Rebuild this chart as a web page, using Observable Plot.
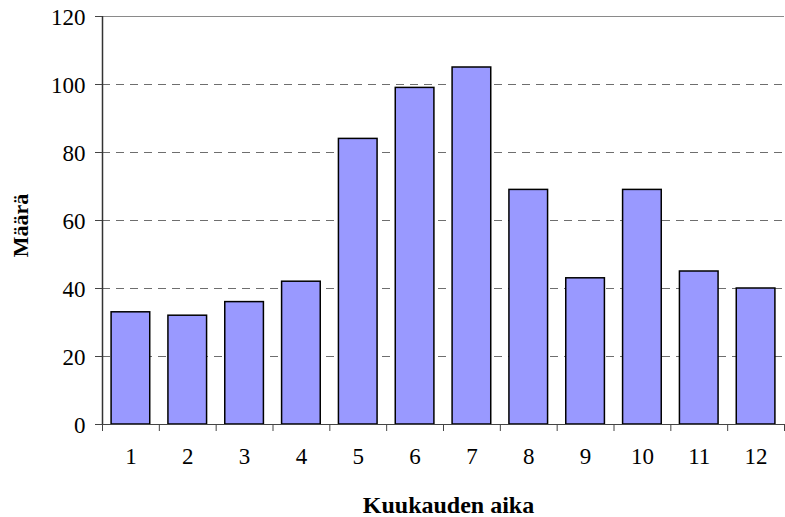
<!DOCTYPE html>
<html>
<head>
<meta charset="utf-8">
<script src="https://cdn.jsdelivr.net/npm/d3@7"></script>
<script src="https://cdn.jsdelivr.net/npm/@observablehq/plot@0.6"></script>
<style>
  html, body { margin: 0; padding: 0; background: white; }
  #chart svg, #chart svg text { font-family: "Liberation Serif", "Times New Roman", serif !important; }
</style>
</head>
<body>
<div id="chart"></div>
<script>
const months = [1, 2, 3, 4, 5, 6, 7, 8, 9, 10, 11, 12];
const counts = [33, 32, 36, 42, 84, 99, 105, 69, 43, 69, 45, 40];
const yTicks = [0, 20, 40, 60, 80, 100, 120];
const xTitle = "Kuukauden aika";
const yTitle = "Määrä";

const data = months.map((m, i) => ({ m, n: counts[i] }));
const boundaries = d3.range(months.length + 1).map(i => i + 0.5);

const chart = Plot.plot({
  width: 785,
  height: 517,
  marginLeft: 102,
  marginRight: 1,
  marginTop: 16,
  marginBottom: 93,
  style: { fontSize: "22px", background: "white", color: "#000" },
  x: { domain: [0.5, 12.5], axis: null },
  y: { domain: [0, 120], axis: null },
  marks: [
    Plot.ruleY(yTicks.filter(t => t > 0 && t < 120), { stroke: "#6e6e6e", strokeDasharray: "8,6", strokeWidth: 1 }),
    Plot.ruleY([120], { stroke: "#8a8a8a", strokeWidth: 1.2 }),
    Plot.rectY(data, { x1: d => d.m - 0.34, x2: d => d.m + 0.34, y: "n", fill: "#9999FF", stroke: "#000", strokeWidth: 1.5 }),
    Plot.ruleY([0], { stroke: "#444", strokeWidth: 1.2 }),
    Plot.ruleX([0.5], { stroke: "#333", strokeWidth: 1.5 }),
    Plot.axisY({ ticks: yTicks, tickSize: 7, tickFormat: () => "", label: null, stroke: "#444" }),
    Plot.axisX({ ticks: boundaries, tickSize: 7, tickFormat: () => "", label: null, stroke: "#444" }),
    Plot.text(yTicks, { y: d => d, text: d => String(d), frameAnchor: "left", textAnchor: "end", dx: -17, dy: 1, fontSize: 23, letterSpacing: "-0.6px" }),
    Plot.text(months, { x: d => d, text: d => String(d), frameAnchor: "bottom", dy: 39, fontSize: 23 }),
    Plot.text([xTitle], { frameAnchor: "bottom", dx: 5, dy: 88, text: d => d, fontWeight: "bold", fontSize: 24, letterSpacing: "-0.8px" }),
    Plot.text([yTitle], { frameAnchor: "left", textAnchor: "middle", dx: -82, dy: 5, rotate: -90, text: d => d, fontWeight: "bold", fontSize: 22, letterSpacing: "-0.6px" })
  ]
});
document.getElementById("chart").appendChild(chart);
</script>
</body>
</html>
